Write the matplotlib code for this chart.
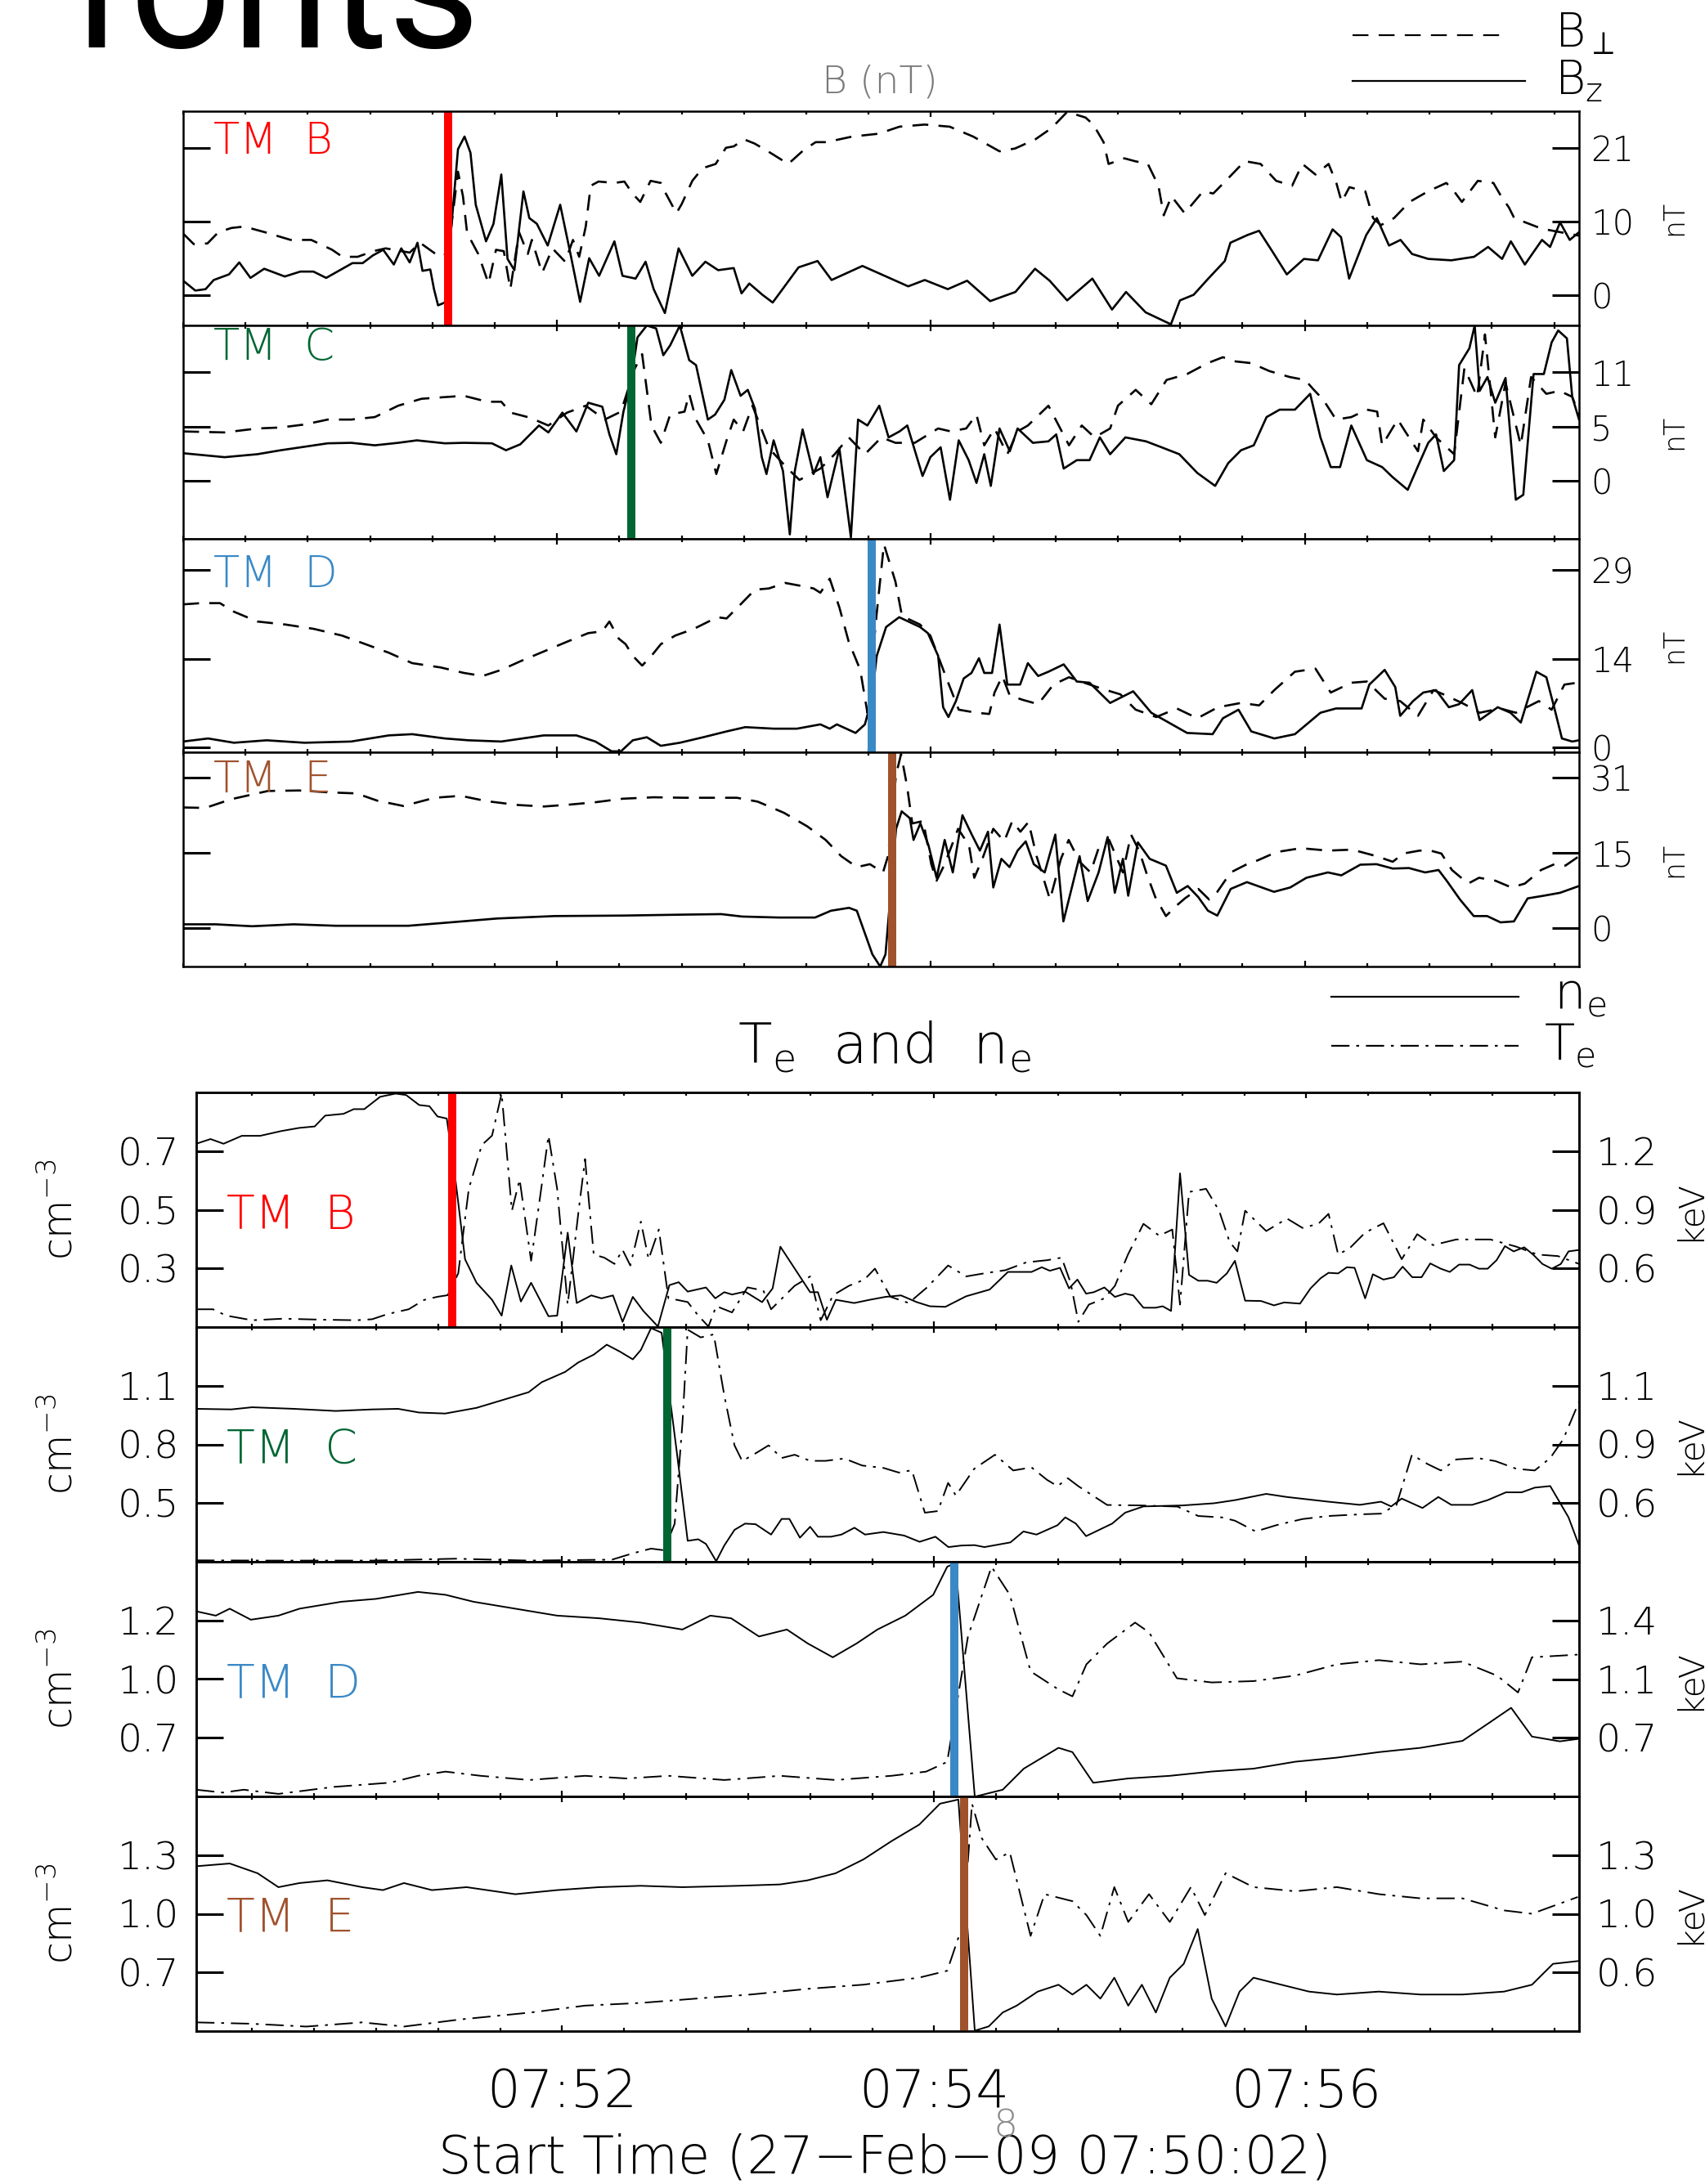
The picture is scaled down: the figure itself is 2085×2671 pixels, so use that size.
import matplotlib
matplotlib.use("Agg")
import matplotlib.pyplot as plt
from matplotlib.lines import Line2D
from matplotlib.ticker import FixedLocator, FixedFormatter, NullLocator

plt.rcParams["font.family"] = ["DejaVu Sans", "Roboto"]
plt.rcParams["font.weight"] = "light"
plt.rcParams["lines.scale_dashes"] = False
plt.rcParams["mathtext.fontset"] = "custom"
plt.rcParams["mathtext.rm"] = "DejaVu Sans:light"
plt.rcParams["mathtext.it"] = "DejaVu Sans:light"
plt.rcParams["mathtext.fallback"] = "stixsans"

# ---------------------------------------------------------------- data
# time in seconds after 07:50:00
XMAJ = [120, 240, 360]
XMAJ_LABELS = ["07:52", "07:54", "07:56"]

PROBES = ["TM  B", "TM  C", "TM  D", "TM  E"]
PROBE_COLORS = ["#ff0000", "#006633", "#3a89c6", "#a0522d"]
B_FRONT_TIMES = [85.1, 143.7, 221.1, 227.5]       # boundary in B data
PLASMA_FRONT_TIMES = [84.5, 153.9, 246.4, 249.6]  # boundary in plasma data

# magnetic field (nT): (time, value) pairs
UB_BZ = [(0,2.1),(3.9,0.7),(7.2,0.9),(9.8,2.2),(14.7,3.0),(18,4.7),(21.6,2.5),(26,3.8),(32.6,2.7),(37.6,3.4),(41.8,3.4),(45.9,2.5),(54.3,4.6),(57.6,4.6),(60.9,5.7),(64.2,6.5),(67.6,4.4),(70,6.7),(72.7,4.7),(75.2,7.5),(76.8,3.5),(79.3,3.7),(80.5,0.9),(81.8,-1.4),(84,-1.0),(86.5,12.0),(88.2,20.8),(90.3,22.6),(92.2,20.3),(93.9,12.9),(97.2,7.7),(99.6,10.2),(102.1,17.2),(104.1,5.2),(106.3,3.6),(109.2,14.8),(111.1,11.0),(113.5,10.2),(117,7.1),(121,12.9),(124.3,5.9),(127.4,-0.9),(130.3,5.3),(133.5,2.8),(138.4,7.7),(141,2.8),(145.2,2.4),(148.4,4.8),(151,0.9),(154.6,-2.5),(159,6.7),(163.4,2.8),(167.6,4.8),(171.7,3.6),(176.7,3.9),(179.2,0.3),(181.7,1.7),(185.9,0.1),(189.2,-1.0),(191.7,0.5),(197.5,4.0),(203.6,4.9),(208.1,2.2),(218,4.2),(232.7,1.3),(238,2.2),(245.4,0.9),(251.6,2.1),(259,-0.8),(267.1,0.5),(273.4,3.8),(278.1,2.1),(283.7,-0.7),(291.8,2.4),(298.1,-2.0),(302.6,0.5),(308.9,-2.4),(317,-4.1),(319.9,-0.7),(324.3,0.1),(329,2.4),(334.3,4.9),(336.1,7.5),(341.6,8.6),(345.3,9.2),(349.8,6.1),(354.2,3.0),(359.7,5.2),(364.2,5.0),(368.9,9.4),(371.6,8.3),(374.2,2.4),(379.7,8.6),(383.1,11.0),(387,7.1),(390.7,7.9),(394.4,5.9),(399.6,5.2),(407,5.0),(414.3,5.5),(418.8,6.9),(423.3,5.2),(426.1,7.7),(430.6,4.4),(436.1,7.9),(438.7,6.9),(441.9,10.4),(445,7.9),(448,9.0)]
UB_BP = [(0,8.8),(3.4,7.3),(7.8,7.4),(11.3,9.0),(15.5,9.6),(19.6,9.8),(26.2,9.0),(34.5,7.9),(41.1,7.9),(47.8,6.5),(51.1,5.5),(56,5.5),(61,6.3),(65,6.7),(72.7,6.1),(76,7.5),(82.3,5.5),(85,6.0),(88.2,17.6),(89.8,14.1),(91.1,9.0),(92.3,7.9),(94.7,5.9),(98,1.7),(100.4,6.5),(102.9,6.3),(105,0.9),(107.8,9.0),(110.6,5.9),(111.9,7.9),(115.2,3.2),(118.5,6.7),(122.6,4.8),(125.1,7.9),(127.1,5.5),(129.2,9.8),(130.8,15.6),(133.3,16.2),(138.4,16.0),(141.6,16.2),(144.2,14.5),(146.7,13.3),(150,16.3),(153.3,16.0),(154.9,14.5),(158.3,11.7),(160,13.0),(163.4,16.3),(166.7,18.1),(170.9,18.7),(174.2,21.0),(176.7,21.2),(180,22.2),(183.4,21.6),(188.4,20.3),(194.2,18.7),(199.2,20.7),(203,21.8),(206.4,21.8),(214.8,22.6),(223.2,23.0),(229.9,24.0),(238,24.3),(246,24.0),(253.5,22.6),(262,20.5),(267,20.9),(273.5,22.2),(278.7,23.8),(283.7,26.1),(289.6,25.3),(292.1,24.3),(295.4,21.8),(297,18.7),(302.1,19.5),(305.4,19.1),(309.6,18.7),(313,15.6),(314.7,11.4),(317.2,14.1),(321.4,11.7),(327.3,14.8),(330.6,14.5),(335.7,16.8),(340.7,19.1),(345.8,18.7),(350.8,16.3),(355.9,15.6),(359.2,18.7),(363.4,17.2),(367.6,18.7),(370.1,16.0),(371.8,13.3),(374.3,15.4),(379.4,14.8),(381.9,11.0),(384.4,10.0),(388.6,11.0),(393.6,13.3),(399.5,14.8),(405.4,16.0),(407.9,14.8),(410.4,13.3),(415.5,16.3),(420.5,16.0),(423,14.1),(425.5,12.5),(427.2,11.0),(436,9.5),(448,8.5)]

UC_BZ = [(0,2.8),(13.3,2.4),(23.8,2.7),(31.3,3.1),(46.4,3.8),(53.9,3.85),(61.5,3.6),(69,3.85),(75,4.1),(84,3.8),(90.1,3.85),(99.1,3.8),(103.6,3.1),(108.2,3.7),(114.2,5.6),(117.2,4.9),(121.7,6.9),(126.2,5.0),(130,7.9),(134.5,7.5),(136.8,4.7),(139,2.7),(141.3,7.0),(143.7,10.0),(145.8,14.5),(148.8,15.7),(151.8,15.4),(154.1,12.7),(156.3,13.7),(159.4,15.7),(162.4,12.2),(164.6,11.7),(168.4,6.2),(170.7,6.7),(173.7,8.2),(175.9,11.2),(178.9,8.6),(181.2,9.2),(183.5,7.3),(185.7,2.4),(187.2,0.7),(189.5,4.1),(192.5,1.0),(194.7,-5.4),(196.3,1.0),(198.8,5.2),(202.3,0.7),(204.5,2.4),(206.8,-1.65),(210.6,3.3),(214.3,-5.7),(216.6,6.2),(219.6,5.6),(223.4,7.6),(226.4,4.4),(229.9,5.0),(232.4,5.6),(237.3,0.5),(239.8,2.4),(243.1,3.4),(246.1,-1.9),(248.9,4.1),(252.1,2.1),(254.6,-0.2),(257.1,2.7),(259.2,-0.5),(262,5.3),(265.3,3.0),(267.8,5.3),(272.7,3.85),(277.7,4.0),(280.2,4.7),(282.6,1.25),(286.8,2.1),(290.9,2.1),(294.2,4.4),(297.5,2.7),(302.4,4.4),(309,4.0),(314,3.4),(319.7,2.7),(325.5,0.8),(331.2,-0.5),(335.4,1.8),(339.5,3.1),(343.6,3.6),(347.7,6.45),(351.9,7.2),(356.8,7.2),(361.7,8.8),(365,4.4),(368.3,1.4),(371.3,1.4),(374.9,5.6),(379.9,2.1),(384.8,1.4),(388.1,0.4),(393,-0.9),(396.3,1.5),(399.6,3.85),(402.1,4.7),(404.6,1.0),(407.9,2.1),(409.5,11.7),(412.8,13.4),(414.5,15.7),(416.1,9.1),(418.6,10.5),(421.1,7.9),(424.4,10.4),(427.7,-1.9),(430.1,-1.4),(433.4,10.8),(436.7,10.8),(439.2,14.0),(441.3,15.2),(444.1,14.4),(445.8,8.5),(448,6.2)]
UC_BP = [(0,5.0),(13.3,4.9),(23.8,5.3),(31.3,5.4),(38.9,5.7),(46.4,6.2),(53.9,6.2),(61.5,6.45),(69,7.6),(76.5,8.3),(84,8.47),(90.1,8.6),(97.6,8.0),(102.1,8.0),(105.1,6.9),(111.2,6.4),(117.2,5.6),(123.2,6.9),(129.2,7.6),(135.3,6.2),(140.5,7.0),(145,11.4),(147.3,12.8),(150.3,5.6),(153.3,3.85),(156.3,6.7),(160.9,7.0),(162.4,8.8),(164.6,6.2),(168.4,4.1),(171.1,0.7),(174.4,4.1),(176.7,6.2),(179.7,5.0),(182.7,7.6),(188,3.3),(194,1.25),(197.8,0.1),(204.5,1.25),(209.1,2.7),(213.6,4.4),(218.8,2.7),(224.1,4.4),(228.6,3.85),(234.8,3.85),(242.3,5.3),(246.4,5.0),(251.3,5.3),(254.6,6.7),(257.1,3.6),(260.4,5.3),(264.5,2.7),(267.8,5.0),(271.1,5.6),(274.4,6.6),(277.7,7.6),(284.3,3.6),(288.4,5.6),(292.5,4.4),(297.5,5.3),(300,7.6),(305.7,9.2),(310.7,7.75),(315.6,10.2),(322.2,10.8),(328.8,11.9),(333.7,12.5),(337,12.1),(342.8,11.9),(348.6,11.1),(355.1,10.5),(360.1,10.2),(362.6,9.3),(365.9,8.2),(370,6.2),(374.9,6.45),(379.9,7.2),(383.2,7.0),(384.8,3.6),(389.8,6.2),(392.2,5.0),(396.3,3.0),(398,6.2),(402.1,4.4),(407.9,2.7),(411.2,11.4),(415.3,8.5),(417.8,14.8),(421.1,4.4),(424.4,9.9),(429.3,3.6),(432.6,10.5),(437.5,8.8),(441.7,9.1),(445.8,8.5),(448,6.7)]

UD_BZ = [(0,1.0),(8,1.5),(16.3,0.8),(26.8,1.2),(38.9,0.8),(53.9,1.0),(66,2.0),(73.5,2.2),(84,1.5),(91.6,1.2),(102.1,1.0),(115.7,2.0),(126.2,2.0),(132.3,1.0),(137.5,-0.6),(140.5,-0.6),(144.3,1.2),(148.8,1.7),(153.3,0.3),(159.4,0.8),(166.9,1.7),(174.4,2.65),(180.4,3.35),(189.5,3.1),(197,3.1),(204.5,3.8),(207.5,3.1),(209.8,3.8),(215.8,2.4),(218.8,3.8),(221,8.0),(222.6,15.0),(225.6,19.7),(229.8,21.3),(236.5,19.7),(239,18.7),(242.3,15.0),(243.9,6.6),(245.6,5.0),(248,7.6),(250.5,11.3),(253,12.2),(255.4,14.6),(257.1,12.2),(259.6,12.2),(262,20.1),(264.5,10.3),(268.6,10.3),(271.1,13.8),(274.4,11.7),(277.7,12.4),(282.6,13.6),(286.8,10.8),(290.9,10.6),(297.5,7.3),(304.9,9.2),(310.7,5.7),(315.6,4.3),(322.2,2.4),(330.4,2.2),(333.7,4.8),(338.7,6.2),(342.8,2.65),(350.2,1.5),(356.8,2.2),(365,5.7),(370,6.4),(378.2,6.4),(380.7,10.3),(385.6,12.7),(389,9.9),(390.6,5.2),(394.7,7.6),(398,9.0),(402.1,9.4),(406.2,6.6),(409.5,7.1),(413.7,9.4),(416.1,4.5),(421.9,6.6),(426,5.7),(429.3,4.1),(434.3,12.4),(437.5,11.5),(440,6.6),(442.5,1.5),(445.8,1.0),(448,1.2)]
UD_BP = [(0,23.4),(5.7,23.6),(11.8,23.6),(16.3,22.2),(23.8,20.6),(32.9,20.1),(41.9,19.4),(51,18.3),(58.5,16.9),(66,15.5),(73.5,13.8),(82.6,13.1),(90.1,12.2),(96.1,11.7),(102.1,12.7),(108.2,14.1),(115.7,15.7),(123.2,17.3),(130,18.7),(134.5,19.0),(136.8,20.6),(139.8,17.8),(142,16.9),(144.3,15.0),(147.3,13.4),(150.3,15.0),(153.3,16.9),(157.9,18.3),(163.9,19.4),(171.4,21.3),(174.4,21.1),(178.9,23.4),(183.5,25.8),(188,26.0),(193.2,26.9),(198.5,26.4),(202.3,26.0),(204.5,25.3),(207.5,27.6),(210.6,22.9),(213.6,17.3),(217.3,12.7),(219.6,5.7),(222.6,22.0),(224.9,33.2),(228.6,27.1),(230.7,21.5),(236.5,20.1),(239.8,18.3),(244.7,11.7),(248.9,6.2),(254.6,5.7),(258.7,5.5),(260.4,9.0),(262.9,11.7),(265.3,8.5),(269.5,7.8),(274.4,7.1),(279.3,10.3),(284.3,11.5),(289.2,10.6),(295,9.6),(300.8,8.7),(305.7,6.2),(312.3,5.0),(318.9,6.4),(325.5,4.8),(332.1,6.6),(339.5,7.3),(345.3,6.9),(350.2,9.4),(356.8,12.4),(363.4,12.9),(368.3,9.0),(374.9,10.6),(379.9,10.8),(385.6,8.0),(390.6,7.6),(396.3,5.2),(401.3,9.4),(405.4,8.5),(411.2,7.1),(416.1,5.7),(422.7,6.4),(427.7,5.7),(435.1,7.6),(439.2,6.2),(443.3,10.3),(447.4,10.6)]

UE_BZ = [(0,0.7),(10.4,0.7),(22.1,0.3),(35.5,0.7),(48.9,0.4),(72.3,0.4),(85.7,1.1),(100.8,1.9),(119.2,2.4),(141,2.5),(161,2.7),(172.7,2.8),(179.4,2.3),(191.1,2.1),(202.8,2.1),(207.9,3.5),(213.7,4.1),(216.2,3.5),(218.7,-1.0),(221.2,-5.5),(223.7,-8.0),(225.4,-5.5),(228.8,20.4),(230.6,24.0),(233.2,22.6),(234.4,18.1),(236.6,21.5),(239.2,17.0),(241.8,10.3),(244.4,18.1),(247,11.4),(250.1,23.2),(253.1,19.2),(255.7,15.9),(258.3,19.8),(260,8.3),(262.6,14.2),(265.2,12.5),(267.8,15.9),(270.4,17.8),(273,13.1),(276.5,11.4),(279.9,19.2),(282.5,1.3),(285.1,8.0),(287.7,14.75),(290.3,5.5),(293.8,11.4),(296.7,18.7),(299,7.2),(301.6,14.2),(303.3,6.6),(306.4,17.6),(310.2,14.2),(315.4,12.8),(318.9,7.2),(322.4,8.6),(325.8,6.3),(328.9,3.5),(331.9,2.5),(336.2,8.0),(341.4,9.4),(350.1,7.4),(355.3,8.3),(360.5,10.3),(367.4,11.4),(371.7,10.8),(377.8,13.0),(383,13.1),(388.2,12.2),(393.4,12.3),(398.6,11.4),(402.9,11.9),(405.5,9.7),(409.8,5.8),(414.2,2.4),(418.5,2.4),(422.8,1.1),(427.1,1.3),(431.5,6.05),(436.7,6.6),(441.9,7.2),(448,8.6)]
UE_BP = [(0,24.8),(7.1,24.7),(15.4,26.5),(27.2,28.2),(37.2,28.3),(47.2,27.9),(55.6,27.7),(62.3,26.2),(70.7,25.1),(80.7,26.8),(89.1,27.2),(97.4,26.1),(107.5,25.3),(115.8,25.0),(124.2,25.4),(132.6,25.9),(141,26.6),(151,26.9),(161,26.8),(169.4,26.8),(177.7,26.8),(184.4,26.0),(192.8,23.7),(200.3,20.9),(206.2,18.1),(211.2,14.75),(216.2,12.5),(220.4,13.1),(224.6,11.4),(226.2,14.75),(228.8,31.6),(230.4,35.8),(232.3,29.3),(234,21.5),(237.5,22.0),(240.1,13.1),(241.8,9.7),(244.4,13.1),(248.7,20.4),(252.2,17.0),(253.9,10.3),(256.5,14.2),(260,20.4),(263.5,17.8),(266.1,22.0),(268.7,19.8),(271.3,21.8),(273.9,14.75),(278.2,5.8),(281.7,14.2),(284.2,18.1),(287.7,13.6),(291.2,11.4),(293.8,16.4),(297.2,18.1),(301.6,11.4),(304.2,19.2),(306.8,15.9),(309.4,10.8),(312,6.3),(315.4,2.4),(318.9,4.6),(321.5,6.05),(325.8,8.0),(329.3,5.8),(331.9,7.4),(336.2,11.4),(341.4,13.1),(344.9,13.9),(350.9,15.6),(358.7,16.4),(367.4,15.9),(375.2,16.1),(383,14.75),(388.2,13.6),(391.6,15.3),(396.8,15.9),(400.3,15.9),(403.8,15.3),(407.2,11.9),(412.4,9.1),(415.9,10.3),(421.1,9.7),(426.3,8.3),(430.6,9.1),(435.8,11.9),(440.1,13.1),(443.6,12.8),(448,14.75)]

# electron density (cm^-3) and temperature (keV): (time, value) pairs
LB_NE = [(2,0.725),(6.6,0.741),(10.8,0.725),(16.7,0.752),(22.6,0.752),(29.3,0.768),(35.2,0.779),(40.2,0.784),(43.6,0.821),(49.5,0.827),(52.8,0.843),(56.2,0.843),(61.3,0.885),(66.3,0.896),(69.7,0.891),(73.9,0.857),(77.2,0.853),(79.8,0.818),(82.8,0.811),(85.6,0.603),(88.7,0.331),(92.4,0.251),(97.4,0.193),(100.5,0.139),(103.6,0.310),(106.7,0.187),(110,0.251),(115.6,0.137),(118.4,0.139),(121.8,0.422),(124.7,0.182),(129.4,0.208),(132.7,0.198),(136.4,0.208),(139.5,0.118),(142.8,0.203),(146.2,0.155),(150.9,0.102),(154.6,0.243),(157.6,0.253),(160.5,0.221),(166.4,0.235),(169.4,0.198),(172.3,0.219),(174.8,0.211),(179,0.221),(184.5,0.185),(187.9,0.232),(190.4,0.374),(200,0.219),(202.5,0.219),(205.4,0.125),(208.3,0.193),(214.2,0.182),(219.2,0.193),(224.3,0.203),(229.3,0.208),(234.4,0.185),(238.6,0.171),(243.6,0.169),(250.3,0.205),(257.9,0.228),(263.8,0.288),(271.4,0.288),(274.7,0.304),(277.3,0.292),(280.6,0.302),(283.5,0.232),(286.2,0.262),(289,0.214),(291.5,0.219),(294.9,0.235),(298.3,0.203),(301.6,0.214),(304.2,0.208),(307.5,0.166),(311.4,0.166),(313.7,0.171),(316.4,0.155),(319.3,0.624),(322.2,0.278),(325.2,0.258),(328.2,0.258),(331.1,0.251),(334.4,0.283),(337,0.326),(340.3,0.190),(345.4,0.189),(349.6,0.174),(352.9,0.184),(358,0.180),(361.4,0.232),(364.7,0.267),(367.2,0.285),(370.3,0.283),(373.1,0.304),(375.6,0.302),(379,0.198),(381.5,0.280),(384.9,0.262),(388.3,0.270),(391.1,0.306),(394.2,0.270),(397.2,0.270),(400,0.317),(403.4,0.299),(406.3,0.288),(409.3,0.313),(412.7,0.313),(415.7,0.299),(418.5,0.299),(421.4,0.328),(424.1,0.376),(426.9,0.358),(430.3,0.372),(433.2,0.347),(436.2,0.315),(439.2,0.299),(442.1,0.315),(444.6,0.358),(448,0.363)]
LB_TE = [(2,0.391),(7.4,0.391),(11.6,0.359),(20,0.335),(30.1,0.343),(41.9,0.338),(53.7,0.335),(58.7,0.34),(63.8,0.367),(70.5,0.391),(75.5,0.439),(79.8,0.455),(83.1,0.463),(86.5,0.575),(89.9,1.007),(94.1,1.231),(97.4,1.279),(100.5,1.495),(103.8,0.895),(106.3,1.055),(110,0.639),(113.4,1.023),(115.6,1.279),(118.4,1.007),(121.8,0.415),(125.2,0.879),(127.4,1.159),(130.2,0.671),(133.6,0.655),(136.9,0.623),(139.5,0.695),(142,0.615),(145.4,0.839),(147.9,0.647),(151.2,0.799),(154.3,0.447),(157.1,0.439),(160.5,0.428),(163.9,0.359),(167.2,0.303),(169.7,0.407),(174.8,0.375),(179.8,0.503),(184.9,0.487),(187.4,0.391),(195,0.511),(200,0.559),(203.4,0.335),(207.4,0.463),(212.5,0.511),(217.5,0.543),(220.9,0.599),(225.9,0.455),(231.8,0.423),(237.7,0.503),(244.5,0.615),(250.3,0.559),(256.2,0.575),(263,0.591),(269.7,0.631),(276.4,0.642),(281.1,0.655),(284,0.527),(286.5,0.327),(289.9,0.415),(294.9,0.447),(298.3,0.511),(302.5,0.671),(307.5,0.828),(312.6,0.767),(316.8,0.799),(319.3,0.415),(322.2,0.991),(327.7,1.007),(331.9,0.895),(335.3,0.735),(337.8,0.687),(340.3,0.895),(347.1,0.791),(353.8,0.855),(358.8,0.807),(363.9,0.828),(367.2,0.879),(370.3,0.671),(374,0.703),(379,0.783),(384.9,0.831),(390.8,0.647),(395.8,0.775),(400.9,0.719),(408.4,0.748),(419.4,0.748),(427.8,0.711),(434.5,0.671),(441.2,0.663),(448,0.623)]

LC_NE = [(2,0.982),(13.3,0.979),(20,0.99),(33.5,0.982),(47,0.971),(58.7,0.979),(67.1,0.982),(73.9,0.963),(82.3,0.958),(92.4,0.987),(100.8,1.027),(109.2,1.067),(113.4,1.118),(121,1.171),(125.2,1.219),(130.2,1.259),(134.4,1.31),(138.6,1.275),(142.8,1.235),(145.4,1.283),(148.7,1.395),(152.1,1.371),(157.1,0.747),(160.5,0.307),(163.9,0.315),(166.4,0.291),(169.7,0.203),(172.3,0.283),(175.6,0.363),(179,0.395),(182.4,0.392),(187.4,0.339),(190.8,0.419),(193.3,0.419),(196.7,0.323),(200,0.379),(202.5,0.328),(206.7,0.328),(210.1,0.339),(214.3,0.374),(217.7,0.339),(223.6,0.352),(230.3,0.334),(235.3,0.302),(240.4,0.328),(244.6,0.275),(248.8,0.283),(253,0.285),(256.2,0.275),(264.6,0.299),(268.8,0.355),(273,0.339),(279.8,0.387),(282.3,0.427),(285.7,0.395),(289,0.331),(293.2,0.363),(297.4,0.395),(301.6,0.451),(307.5,0.483),(320.1,0.488),(330.2,0.499),(337,0.515),(347.1,0.547),(353.8,0.531),(367.2,0.507),(377.3,0.491),(384.1,0.507),(387.4,0.483),(390.8,0.523),(397.5,0.475),(402.6,0.531),(406.8,0.491),(413.5,0.491),(418.5,0.515),(424.4,0.555),(429.5,0.555),(433.7,0.579),(438.7,0.587),(444.6,0.427),(448,0.283)]
LC_TE = [(2,0.376),(25.1,0.375),(58.7,0.375),(85.6,0.383),(109.2,0.375),(136.1,0.379),(142.8,0.406),(148.7,0.426),(152.9,0.419),(156.3,0.532),(158.8,0.959),(160.5,1.359),(164.7,1.326),(168.9,1.339),(172.3,1.079),(175.6,0.866),(178.1,0.799),(182.4,0.832),(186.6,0.866),(190.8,0.812),(195,0.826),(200,0.80),(205,0.80),(211,0.81),(216.8,0.78),(223.6,0.77),(228.6,0.75),(232.8,0.76),(237,0.579),(241.2,0.586),(244.5,0.706),(247,0.652),(252.9,0.766),(259.6,0.826),(265.5,0.759),(271.4,0.772),(276.4,0.719),(279.8,0.692),(283.1,0.726),(286.5,0.692),(295.8,0.612),(306.7,0.61),(318.5,0.605),(325.2,0.565),(332.8,0.559),(337,0.545),(343.7,0.499),(350.4,0.526),(358.8,0.552),(367.2,0.565),(377.3,0.572),(384.1,0.575),(389.1,0.612),(394.1,0.826),(399.2,0.786),(403.4,0.759),(408.4,0.806),(415.2,0.812),(421,0.799),(427.8,0.766),(433.7,0.759),(438.7,0.812),(442.9,0.892),(448,1.052)]

LD_NE = [(2,1.243),(8.3,1.225),(12.8,1.254),(19.6,1.208),(28.5,1.225),(35.3,1.254),(48.8,1.283),(60,1.295),(73.5,1.324),(82.4,1.312),(91.4,1.283),(104.9,1.254),(118.4,1.225),(131.9,1.214),(145.3,1.196),(158.8,1.167),(167.8,1.225),(174.5,1.214),(183.5,1.138),(192.5,1.167),(199.2,1.109),(207.3,1.051),(215,1.109),(221.7,1.167),(230.7,1.225),(239.7,1.312),(244.2,1.429),(246.9,1.446),(253.1,0.469),(262.1,0.498),(268.9,0.586),(280.1,0.673),(284.6,0.655),(291.3,0.527),(302.6,0.545),(316,0.556),(329.5,0.574),(343,0.586),(356.5,0.615),(369.9,0.632),(383.4,0.655),(396.9,0.673),(410.4,0.702),(419.3,0.78),(426.1,0.84),(432.8,0.72),(441.8,0.70),(447.6,0.71)]
LD_TE = [(2,0.41),(10.6,0.393),(17.3,0.41),(28.5,0.385),(46.5,0.427),(64.5,0.452),(73.5,0.493),(82.4,0.518),(93.7,0.493),(109.4,0.468),(127.4,0.493),(140.8,0.477),(154.3,0.493),(172.3,0.468),(190.3,0.493),(208.2,0.468),(226.2,0.493),(237.4,0.518),(244.2,0.576),(250.9,1.324),(258.5,1.74),(264.4,1.573),(271.1,1.116),(280.1,1.008),(284.6,0.967),(289.1,1.158),(295.8,1.282),(304.8,1.407),(309.3,1.349),(318.3,1.075),(329.5,1.05),(343,1.058),(356.5,1.091),(369.9,1.158),(383.4,1.183),(396.9,1.158),(410.4,1.174),(421.6,1.09),(428.3,0.99),(432.8,1.2),(447.6,1.216)]

LE_NE = [(2,1.243),(12.8,1.257),(21.8,1.207),(28.5,1.136),(35.3,1.157),(44.3,1.171),(55.5,1.136),(62.2,1.121),(69,1.157),(78,1.121),(89.2,1.136),(104.9,1.1),(118.4,1.121),(131.9,1.136),(145.3,1.143),(158.8,1.136),(176.8,1.143),(190.3,1.15),(199.2,1.171),(208.2,1.207),(217.2,1.278),(226.2,1.371),(235.2,1.456),(241.9,1.563),(247.8,1.584),(253.1,0.402),(257.6,0.424),(262.1,0.495),(266.6,0.53),(273.4,0.602),(280.1,0.637),(284.6,0.587),(289.1,0.637),(293.6,0.566),(298.1,0.673),(302.6,0.53),(307,0.637),(311.5,0.495),(316,0.673),(320.5,0.744),(325,0.922),(329.5,0.566),(334,0.424),(338.5,0.602),(343,0.673),(352,0.637),(360.9,0.602),(369.9,0.587),(383.4,0.602),(396.9,0.587),(410.4,0.587),(423.8,0.602),(432.8,0.637),(439.6,0.744),(447.6,0.758)]
LE_TE = [(2,0.322),(19.6,0.314),(37.5,0.297),(55.5,0.322),(69,0.297),(86.9,0.339),(109.4,0.38),(127.4,0.422),(145.3,0.438),(163.3,0.464),(181.3,0.489),(199.2,0.522),(217.2,0.547),(235.2,0.589),(244.2,0.63),(249.5,0.92),(252.2,1.627),(255.4,1.419),(259.9,1.294),(264.4,1.336),(271.1,0.838),(275.6,1.087),(284.6,1.045),(289.1,0.962),(293.6,0.838),(298.1,1.129),(302.6,0.921),(309.3,1.087),(316,0.921),(322.8,1.129),(327.3,0.962),(334,1.212),(343,1.129),(356.5,1.104),(369.9,1.129),(383.4,1.087),(396.9,1.062),(410.4,1.062),(423.8,0.99),(432.8,0.97),(447.6,1.07)]

B_SERIES = [(UB_BZ, UB_BP), (UC_BZ, UC_BP), (UD_BZ, UD_BP), (UE_BZ, UE_BP)]
B_LIMITS = [(-4.2, 26.2), (-5.85, 15.75), (-0.82, 34.1), (-8.0, 36.1)]
B_TICKS = [[0, 10.5, 21], [0, 5.5, 11], [0, 14.5, 29], [0, 15.5, 31]]
B_TICK_LABELS = [["0", "10", "21"], ["0", "5", "11"], ["0", "14", "29"], ["0", "15", "31"]]

PLASMA_SERIES = [(LB_NE, LB_TE), (LC_NE, LC_TE), (LD_NE, LD_TE), (LE_NE, LE_TE)]
NE_LIMITS = [(0.1, 0.9), (0.2, 1.4), (0.47, 1.45), (0.4, 1.6)]
NE_TICK_LABELS = [["0.3", "0.5", "0.7"], ["0.5", "0.8", "1.1"], ["0.7", "1.0", "1.2"], ["0.7", "1.0", "1.3"]]
TE_LIMITS = [(0.3, 1.5), (0.37, 1.37), (0.37, 1.77), (0.27, 1.67)]
TE_TICK_LABELS = [["0.6", "0.9", "1.2"], ["0.6", "0.9", "1.1"], ["0.7", "1.1", "1.4"], ["0.6", "1.0", "1.3"]]

# ---------------------------------------------------------------- figure
W, H = 2085, 2671
fig = plt.figure(figsize=(W / 100, H / 100), dpi=100)

DASH = (0, (14, 9))
DASHDOT = (0, (16, 6, 2.5, 6))


def box(x0, y0, x1, y1):
    """Axes from a pixel box measured from the top-left corner."""
    return fig.add_axes([x0 / W, 1 - y1 / H, (x1 - x0) / W, (y1 - y0) / H])


def ftext(x, y, s, **kw):
    return fig.text(x / W, 1 - y / H, s, **kw)


def fline(x0, x1, y, **kw):
    fig.add_artist(Line2D([x0 / W, x1 / W], [1 - y / H, 1 - y / H],
                          transform=fig.transFigure, **kw))


def time_axis(ax, lo, hi):
    ax.set_xlim(lo, hi)
    ax.xaxis.set_major_locator(FixedLocator(XMAJ))
    ax.xaxis.set_minor_locator(FixedLocator([s for s in range(0, 449, 20) if s not in XMAJ]))
    ax.tick_params(axis="x", which="both", direction="in", top=True, bottom=True,
                   labelbottom=False, width=1.6, color="black")
    ax.tick_params(axis="x", which="major", length=5)
    ax.tick_params(axis="x", which="minor", length=2.6)
    for sp in ax.spines.values():
        sp.set_linewidth(1.8)


def unzip(pairs):
    return [p[0] for p in pairs], [p[1] for p in pairs]


# magnetic field panels
up_top, up_h = 136, 261.5
up_label_y = [173, 425, 703, 954]
for i in range(4):
    y0 = up_top + i * up_h
    ax = box(224, y0, 1931, y0 + up_h)
    time_axis(ax, 0, 448)
    bz, bp = B_SERIES[i]
    t, v = unzip(bp)
    ax.plot(t, v, color="black", lw=1.9, ls=DASH)
    t, v = unzip(bz)
    ax.plot(t, v, color="black", lw=1.9)
    ax.axvline(B_FRONT_TIMES[i], color=PROBE_COLORS[i], lw=7.2)
    ax.set_ylim(*B_LIMITS[i])
    ax.yaxis.set_major_locator(FixedLocator(B_TICKS[i]))
    ax.yaxis.set_major_formatter(FixedFormatter(B_TICK_LABELS[i]))
    ax.yaxis.set_minor_locator(NullLocator())
    ax.tick_params(axis="y", which="major", direction="in", left=True, right=True,
                   labelleft=False, labelright=True, length=24, width=2.2,
                   pad=10, labelsize=30)
    ftext(261, up_label_y[i], PROBES[i], color=PROBE_COLORS[i], fontsize=38,
          ha="left", va="center")
    ftext(2047, y0 + up_h / 2, "nT", rotation=90, fontsize=25,
          ha="center", va="center")

# electron density / temperature panels
lo_top, lo_h = 1336, 287
lo_label_y = [1487, 1774, 2061, 2347]
for i in range(4):
    y0 = lo_top + i * lo_h
    ax = box(240, y0, 1931, y0 + lo_h)
    ax2 = ax.twinx()
    time_axis(ax, 2, 448)
    for sp in ax2.spines.values():
        sp.set_linewidth(1.8)
    ne, te = PLASMA_SERIES[i]
    t, v = unzip(ne)
    ax.plot(t, v, color="black", lw=1.4)
    t, v = unzip(te)
    ax2.plot(t, v, color="black", lw=1.4, ls=DASHDOT)
    ax2.axvline(PLASMA_FRONT_TIMES[i], color=PROBE_COLORS[i], lw=7.2)

    lo, hi = NE_LIMITS[i]
    ax.set_ylim(lo, hi)
    ax.yaxis.set_major_locator(FixedLocator([lo + (hi - lo) * f for f in (0.25, 0.5, 0.75)]))
    ax.yaxis.set_major_formatter(FixedFormatter(NE_TICK_LABELS[i]))
    ax.yaxis.set_minor_locator(NullLocator())
    ax.tick_params(axis="y", which="major", direction="in", left=True, right=False,
                   labelleft=True, length=24, width=2.2, pad=15, labelsize=34)

    lo, hi = TE_LIMITS[i]
    ax2.set_ylim(lo, hi)
    ax2.yaxis.set_major_locator(FixedLocator([lo + (hi - lo) * f for f in (0.25, 0.5, 0.75)]))
    ax2.yaxis.set_major_formatter(FixedFormatter(TE_TICK_LABELS[i]))
    ax2.yaxis.set_minor_locator(NullLocator())
    ax2.tick_params(axis="y", which="major", direction="in", right=True, left=False,
                    labelright=True, length=24, width=2.2, pad=15, labelsize=34)

    ftext(277, lo_label_y[i], PROBES[i], color=PROBE_COLORS[i], fontsize=41,
          ha="left", va="center")
    ftext(74, y0 + lo_h / 2, r"cm$^{-3}$", rotation=90, fontsize=35,
          ha="center", va="center")
    ftext(2065, y0 + lo_h / 2, "keV", rotation=90, fontsize=31,
          ha="center", va="center")
    if i == 3:
        ax.xaxis.set_major_formatter(FixedFormatter(XMAJ_LABELS))
        ax.tick_params(axis="x", which="major", labelbottom=True, labelsize=46, pad=32)

# headings, legends and captions
ftext(84, 58, "fonts", fontsize=157, family=["Roboto"], fontweight="normal",
      ha="left", va="baseline")
ftext(1076, 114, "B (nT)", fontsize=34, color="#7a7a7a", ha="center", va="baseline")

fline(1654, 1844, 43, color="black", lw=1.6, ls=DASH)
fline(1654, 1865, 99, color="black", lw=1.6)
ftext(1901, 58, r"B$_{\perp}$", fontsize=41, ha="left", va="baseline")
ftext(1901, 115, r"B$_{z}$", fontsize=41, ha="left", va="baseline")

ftext(1082, 1300, r"T$_{e}$  and  n$_{e}$", fontsize=49, ha="center", va="baseline")
fline(1628, 1857, 1219, color="black", lw=1.6)
fline(1628, 1857, 1279, color="black", lw=1.6, ls=DASHDOT)
ftext(1900, 1235, r"n$_{e}$", fontsize=44, ha="left", va="baseline")
ftext(1888, 1297, r"T$_{e}$", fontsize=44, ha="left", va="baseline")

ftext(1082, 2658, "Start Time (27\u2212Feb\u221209 07:50:02)", fontsize=46,
      ha="center", va="baseline")
ftext(1230, 2600, "8", fontsize=34, color="#8c8c8c", ha="center", va="center")

fig.savefig("out.png", dpi=100)
